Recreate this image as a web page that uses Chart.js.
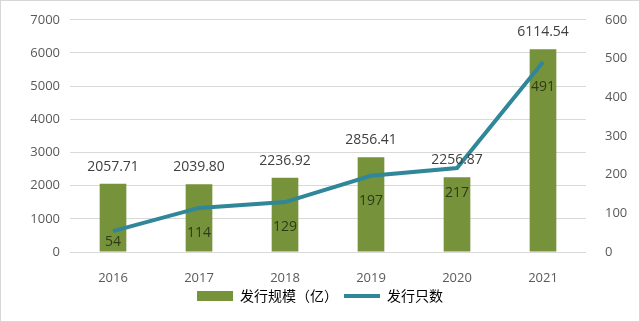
<!DOCTYPE html>
<html>
<head>
<meta charset="utf-8">
<script src="https://cdn.jsdelivr.net/npm/chart.js@4"></script>
<style>
    html, body { margin: 0; padding: 0; background: #ffffff; }
    #wrap { width: 638px; height: 320px; border: 1px solid #d6d6d6; position: relative; }
</style>
</head>
<body>
<div id="wrap"><canvas id="bondChart" width="638" height="320"></canvas></div>
<script>
/* ===============================
   Data
=============================== */

const years = ["2016", "2017", "2018", "2019", "2020", "2021"];

const issueScale = [2057.71, 2039.80, 2236.92, 2856.41, 2256.87, 6114.54];

const issueCount = [54, 114, 129, 197, 217, 491];

const leftTicks = [0, 1000, 2000, 3000, 4000, 5000, 6000, 7000];

const rightTicks = [0, 100, 200, 300, 400, 500, 600];

const barLabel = "发行规模（亿）";
const lineLabel = "发行只数";

const fontFamily = "'Open Sans', 'Noto Sans CJK SC', sans-serif";
const cjkFont = "'Noto Sans CJK SC', sans-serif";

/* ===============================
   Value labels plugin
=============================== */

const valueLabels = {
    id: "valueLabels",
    afterDatasetsDraw(chart) {
        const ctx = chart.ctx;
        ctx.save();
        ctx.textAlign = "center";
        ctx.textBaseline = "middle";

        // bar labels above the bars (dataset 1 = bars)
        ctx.font = "14px " + fontFamily;
        ctx.fillStyle = "#404040";
        chart.getDatasetMeta(1).data.forEach(function (bar, i) {
            ctx.fillText(issueScale[i].toFixed(2), bar.x, bar.y - 17);
        });

        // line labels below the points (dataset 0 = line)
        ctx.fillStyle = "#2f3a17";
        chart.getDatasetMeta(0).data.forEach(function (pt, i) {
            const off = i === 0 ? 11 : 25;
            ctx.fillText(String(issueCount[i]), pt.x, pt.y + off);
        });

        ctx.restore();
    }
};

/* ===============================
   Chart
=============================== */

new Chart(document.getElementById("bondChart"), {
    data: {
        labels: years,
        datasets: [
            {
                type: "line",
                label: lineLabel,
                data: issueCount,
                yAxisID: "y1",
                borderColor: "#2f8799",
                backgroundColor: "#2f8799",
                borderWidth: 4,
                pointRadius: 0,
                tension: 0,
                order: 0
            },
            {
                type: "bar",
                label: barLabel,
                data: issueScale,
                yAxisID: "y",
                backgroundColor: "#76923b",
                barPercentage: 0.62,
                categoryPercentage: 0.5,
                order: 1
            }
        ]
    },
    options: {
        responsive: false,
        animation: false,
        layout: { padding: { top: 3, left: 0, right: 0, bottom: 8 } },
        scales: {
            x: {
                grid: { display: false },
                border: { display: false },
                ticks: { color: "#595959", font: { size: 13, family: fontFamily }, padding: 10 },
                afterFit: function (scale) { scale.height = 31; }
            },
            y: {
                position: "left",
                min: 0,
                max: 7000,
                afterBuildTicks: function (scale) {
                    scale.ticks = leftTicks.map(function (v) { return { value: v }; });
                },
                grid: { color: "#d9d9d9", lineWidth: 1, drawTicks: false },
                border: { display: false },
                ticks: {
                    color: "#595959",
                    font: { size: 13, family: fontFamily },
                    padding: 10,
                    callback: function (v) { return String(v); }
                },
                afterFit: function (scale) { scale.width = 69; }
            },
            y1: {
                position: "right",
                min: 0,
                max: 600,
                afterBuildTicks: function (scale) {
                    scale.ticks = rightTicks.map(function (v) { return { value: v }; });
                },
                grid: { display: false },
                border: { display: false },
                ticks: {
                    color: "#595959",
                    font: { size: 13, family: fontFamily },
                    padding: 11,
                    callback: function (v) { return String(v); }
                },
                afterFit: function (scale) { scale.width = 53; }
            }
        },
        plugins: {
            legend: {
                position: "bottom",
                labels: {
                    usePointStyle: true,
                    pointStyleWidth: 36,
                    boxWidth: 36,
                    boxHeight: 10,
                    padding: 6,
                    color: "#595959",
                    font: { size: 14, family: cjkFont },
                    generateLabels: function (chart) {
                        return [
                            {
                                text: barLabel,
                                pointStyle: "rect",
                                fillStyle: "#76923b",
                                strokeStyle: "#76923b",
                                lineWidth: 0,
                                datasetIndex: 1
                            },
                            {
                                text: lineLabel,
                                pointStyle: "line",
                                fillStyle: "#2f8799",
                                strokeStyle: "#2f8799",
                                lineWidth: 4,
                                datasetIndex: 0
                            }
                        ];
                    }
                }
            },
            tooltip: { enabled: false }
        }
    },
    plugins: [valueLabels]
});
</script>
</body>
</html>
